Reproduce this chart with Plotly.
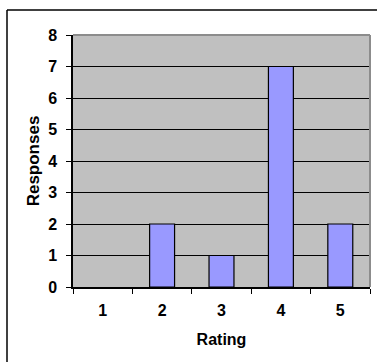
import plotly.graph_objects as go

# Survey results: number of responses per rating
ratings = ["1", "2", "3", "4", "5"]
responses = [0, 2, 1, 7, 2]
y_ticks = [0, 1, 2, 3, 4, 5, 6, 7, 8]

W, H = 377, 362
# plot area edges in pixels
PX0, PX1, PY_TOP, PY_BOT = 73, 370, 35, 287

FONT = "Liberation Sans, Arial, sans-serif"
tick_font = dict(family=FONT, size=16, color="black", weight="bold")
title_font = dict(family=FONT, size=16, color="black", weight="bold")

# empty bars get no outline
outline_w = [1.2 if v > 0 else 0 for v in responses]

fig = go.Figure(
    go.Bar(
        x=ratings,
        y=responses,
        marker=dict(color="#9999FF", line=dict(color="black", width=outline_w)),
        width=0.42,
    )
)

fig.update_layout(
    width=W,
    height=H,
    margin=dict(l=0, r=0, t=0, b=0),
    paper_bgcolor="white",
    plot_bgcolor="#C0C0C0",
    showlegend=False,
    font=dict(family=FONT, color="black"),
)

fig.update_xaxes(
    domain=[PX0 / W, PX1 / W],
    type="category",
    tickson="boundaries",
    ticks="outside",
    ticklen=5,
    tickcolor="black",
    showline=True,
    linecolor="black",
    linewidth=1.5,
    showgrid=False,
    automargin=False,
    ticklabelstandoff=8,
    tickfont=tick_font,
    title=dict(text="Rating", standoff=16, font=title_font),
)

fig.update_yaxes(
    domain=[1 - PY_BOT / H, 1 - PY_TOP / H],
    range=[0, 8],
    tickvals=y_ticks,
    ticks="outside",
    ticklen=5,
    tickcolor="black",
    showline=True,
    linecolor="black",
    linewidth=1.5,
    showgrid=True,
    gridcolor="black",
    gridwidth=1.2,
    zeroline=False,
    automargin=False,
    ticklabelstandoff=6,
    tickfont=tick_font,
    title=dict(text="Responses", standoff=4,
               font=dict(family=FONT, size=17, color="black", weight="bold")),
)

# gray top and right edges of the plot area
fig.add_shape(type="line", xref="paper", yref="paper",
              x0=PX0 / W, x1=PX1 / W, y0=1 - PY_TOP / H, y1=1 - PY_TOP / H,
              line=dict(color="#8C8C8C", width=2), layer="above")
fig.add_shape(type="line", xref="paper", yref="paper",
              x0=PX1 / W, x1=PX1 / W, y0=1 - PY_BOT / H, y1=1 - PY_TOP / H,
              line=dict(color="#8C8C8C", width=2), layer="above")
# outer chart frame: top and left edges
fx = 7 / W
fy = 1 - 10 / H
fig.add_shape(type="line", xref="paper", yref="paper", x0=fx, x1=1, y0=fy, y1=fy,
              line=dict(color="black", width=1.5), layer="above")
fig.add_shape(type="line", xref="paper", yref="paper", x0=fx, x1=fx, y0=0, y1=fy,
              line=dict(color="black", width=1.5), layer="above")

fig.write_html("out.html")
